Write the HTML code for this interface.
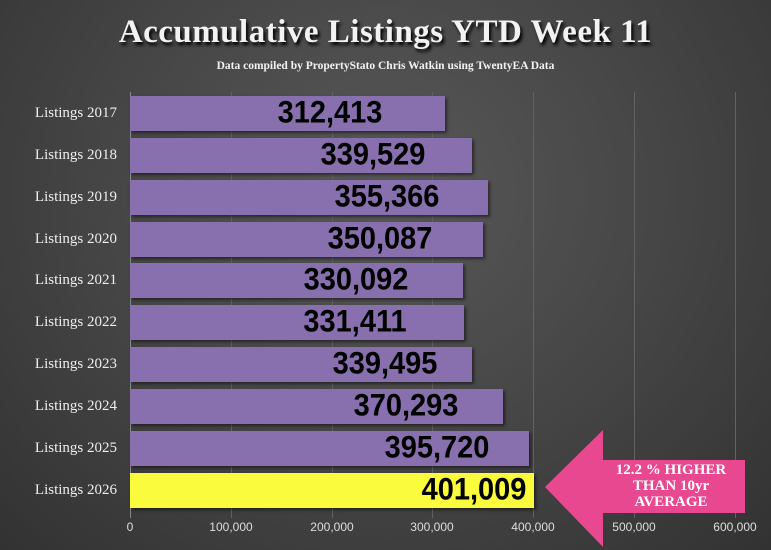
<!DOCTYPE html>
<html><head><style>
body{margin:0;width:771px;height:550px;overflow:hidden;background:radial-gradient(ellipse at 50% 35%,#585858 0%,#464646 50%,#323232 100%);font-family:"Liberation Serif",serif;position:relative}
.t{position:absolute;left:0;width:771px;text-align:center;color:#f2f2f2}
.grid{position:absolute;top:92px;height:426px;width:1px;background:#626262}
.lab{position:absolute;left:0;width:117px;text-align:right;color:#eee;font-size:15px}
.bar{position:absolute;left:130px;height:35px;background:#8770ad;box-shadow:2px 2px 3px rgba(0,0,0,.5)}
.val{position:absolute;font-family:"Liberation Sans",sans-serif;font-weight:bold;font-size:29px;color:#000;transform:translateX(-50%) scaleY(1.08);white-space:nowrap;line-height:35px}
.ax{position:absolute;top:520px;color:#ddd;font-family:"Liberation Sans",sans-serif;font-size:12px;transform:translateX(-50%)}
</style></head><body>
<div class="t" style="top:14px;font-size:33px;font-weight:bold;text-shadow:2px 3px 3px #000;letter-spacing:0.5px">Accumulative Listings YTD Week 11</div>
<div class="t" style="top:60px;font-size:11.5px;font-weight:bold">Data compiled by PropertyStato Chris Watkin using TwentyEA Data</div>
<div class="grid" style="left:130px;background:#888"></div>
<div class="grid" style="left:231px"></div><div class="grid" style="left:332px"></div><div class="grid" style="left:432px"></div><div class="grid" style="left:533px"></div><div class="grid" style="left:634px"></div><div class="grid" style="left:735px"></div>

<div class="lab" style="top:105px">Listings 2017</div><div class="bar" style="top:96px;width:315px"></div><div class="val" style="top:96px;left:330px">312,413</div>
<div class="lab" style="top:147px">Listings 2018</div><div class="bar" style="top:138px;width:342px"></div><div class="val" style="top:138px;left:373px">339,529</div>
<div class="lab" style="top:189px">Listings 2019</div><div class="bar" style="top:180px;width:358px"></div><div class="val" style="top:180px;left:387px">355,366</div>
<div class="lab" style="top:231px">Listings 2020</div><div class="bar" style="top:222px;width:353px"></div><div class="val" style="top:222px;left:380px">350,087</div>
<div class="lab" style="top:272px">Listings 2021</div><div class="bar" style="top:263px;width:333px"></div><div class="val" style="top:263px;left:356px">330,092</div>
<div class="lab" style="top:314px">Listings 2022</div><div class="bar" style="top:305px;width:334px"></div><div class="val" style="top:305px;left:355px">331,411</div>
<div class="lab" style="top:356px">Listings 2023</div><div class="bar" style="top:347px;width:342px"></div><div class="val" style="top:347px;left:385px">339,495</div>
<div class="lab" style="top:398px">Listings 2024</div><div class="bar" style="top:389px;width:373px"></div><div class="val" style="top:389px;left:406px">370,293</div>
<div class="lab" style="top:440px">Listings 2025</div><div class="bar" style="top:431px;width:399px"></div><div class="val" style="top:431px;left:437px">395,720</div>
<div class="lab" style="top:482px">Listings 2026</div><div class="bar" style="top:473px;width:404px;background:#fbfb3e"></div><div class="val" style="top:473px;left:474px">401,009</div>

<div class="ax" style="left:130px">0</div><div class="ax" style="left:231px">100,000</div><div class="ax" style="left:332px">200,000</div><div class="ax" style="left:432px">300,000</div><div class="ax" style="left:533px">400,000</div><div class="ax" style="left:634px">500,000</div><div class="ax" style="left:735px">600,000</div>

<svg style="position:absolute;left:0;top:0" width="771" height="550"><polygon points="545,487 603,430 603,460 745,460 745,513 603,513 603,547" fill="#e8488f"/></svg>
<div style="position:absolute;left:598px;top:462px;width:146px;text-align:center;color:#fff;font-weight:bold;font-size:15px;line-height:16px">12.2 % HIGHER<br>THAN 10yr<br>AVERAGE</div>
</body></html>
